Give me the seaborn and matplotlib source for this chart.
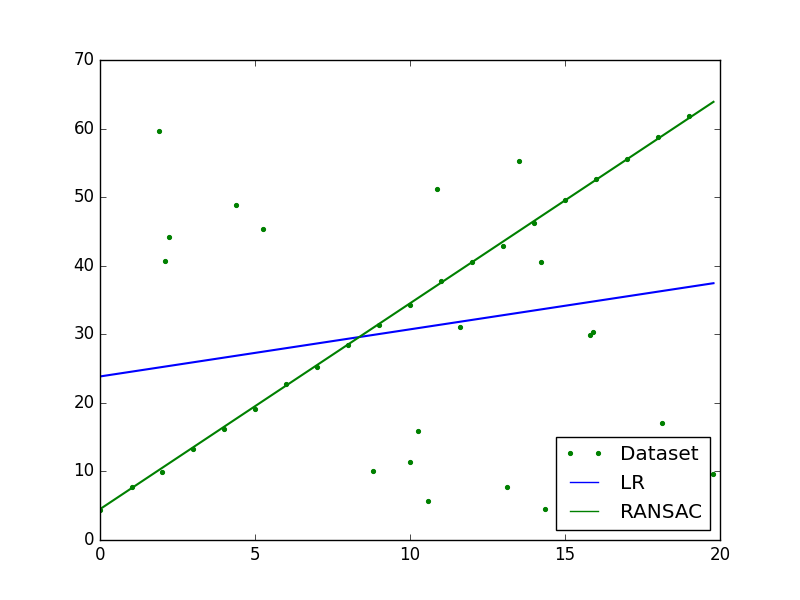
import matplotlib
matplotlib.use('Agg')
import matplotlib.pyplot as plt
import seaborn as sns
import pandas as pd

# 数据点
data_x = [0.0, 1.02, 2.01, 3.01, 4.01, 5.0, 6.0, 7.0, 8.01, 9.0, 10.0,
          11.01, 12.01, 13.01, 14.01, 15.01, 16.01, 17.01, 18.01, 19.01,
          8.82, 10.01, 10.86, 13.53, 14.24, 1.91, 4.40, 5.27, 2.24, 2.11,
          11.61, 15.81, 15.91, 10.27, 10.59, 13.14, 14.36, 18.14, 19.79]
data_y = [4.4, 7.7, 9.9, 13.2, 16.2, 19.1, 22.7, 25.3, 28.4, 31.3, 34.3,
          37.8, 40.5, 42.9, 46.3, 49.6, 52.7, 55.5, 58.7, 61.9,
          10.0, 11.4, 51.2, 55.3, 40.6, 59.7, 48.9, 45.4, 44.2, 40.7,
          31.1, 29.9, 30.3, 15.9, 5.65, 7.7, 4.5, 17.1, 9.6]

# 拟合直线端点
lr_x = [0.0, 19.79]
lr_y = [23.85, 37.45]
ransac_x = [0.0, 19.79]
ransac_y = [4.5, 63.9]

plt.style.use('classic')
plt.rcParams['font.family'] = ['DejaVu Sans']

df = pd.DataFrame({'x': data_x, 'y': data_y})

fig, ax = plt.subplots(figsize=(8, 6), dpi=100)

sns.lineplot(data=df, x='x', y='y', marker='.', linestyle='none', color='g',
             markeredgecolor='g', markersize=6, estimator=None, sort=False,
             label='Dataset', ax=ax)
sns.lineplot(x=lr_x, y=lr_y, color='b', linewidth=1.5, estimator=None,
             sort=False, label='LR', ax=ax)
sns.lineplot(x=ransac_x, y=ransac_y, color='g', linewidth=1.5, estimator=None,
             sort=False, label='RANSAC', ax=ax)

ax.set_xlim(0, 20)
ax.set_ylim(0, 70)
ax.set_xlabel('')
ax.set_ylabel('')
leg = ax.legend(loc='lower right')
# 图例中的线条细一些
for line in leg.get_lines()[1:]:
    line.set_linewidth(1.0)

plt.savefig('out.png', dpi=100)
plt.close()
